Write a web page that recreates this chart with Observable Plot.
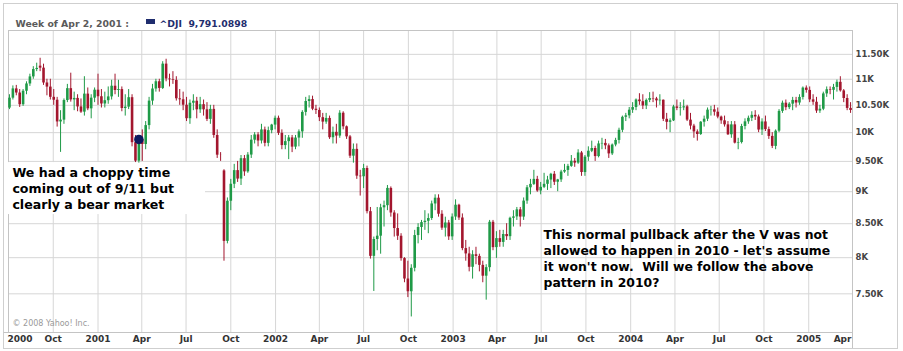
<!DOCTYPE html>
<html><head><meta charset="utf-8">
<script src="https://cdn.jsdelivr.net/npm/d3@7"></script>
<script src="https://cdn.jsdelivr.net/npm/@observablehq/plot@0.6"></script>
<style>
html,body{margin:0;padding:0;background:#fff;}
#chart{position:relative;width:903px;height:351px;}
</style></head><body><div id="chart"></div>
<script>
// Weekly ^DJI candles [open, high, low, close], weeks starting on Monday
const y2000 = [
[10448,10700,10420,10635],[10635,10870,10600,10812],[10812,10880,10680,10733],[10733,10800,10460,10511],
[10511,10800,10480,10767],[10767,10950,10700,10908],[10908,11100,10860,11046],[11046,11250,11000,11192],
[11192,11320,11150,11215],[11260,11420,11150,11220],[11220,11300,10880,10927],[10927,11000,10680,10847],
[10847,11000,10600,10651],[10651,10800,10500,10596],[10596,10650,10100,10193],[10193,10400,9654,10226],
[10226,10620,10150,10590],[10590,10900,10550,10817],[10817,11120,10560,10602],[10602,10750,10400,10630],
[10630,10700,10380,10470],[10470,10620,10350,10373],[10373,11050,10300,10712],[10712,10830,10400,10434],
[10434,10700,10250,10635],[10635,10830,10550,10787]];
const y2001 = [
[10787,11100,10500,10662],[10662,10800,10450,10525],[10525,10750,10450,10587],[10587,10850,10520,10659],
[10659,10980,10600,10864],[10864,11100,10700,10781],[10781,10980,10650,10799],[10799,10850,10380,10441],
[10441,10700,10300,10466],[10466,10800,10420,10644],[10644,10700,9750,9823],[9823,9950,9480,9504],
[9504,9950,9470,9879],[9879,10050,9500,9791],[9791,10200,9700,10127],[10127,10650,10050,10579],
[10579,10900,10500,10810],[10810,11000,10750,10951],[10951,11000,10750,10821],[10821,11350,10800,11301],
[11301,11400,10950,11005],[11005,11100,10850,10990],[10990,11150,10900,10977],[10977,11050,10580,10623],
[10623,10800,10500,10604],[10604,10750,10400,10502],[10502,10650,10200,10252],[10252,10600,10150,10539],
[10539,10700,10400,10577],[10577,10650,10250,10416],[10416,10650,10350,10512],[10512,10600,10300,10416],
[10416,10550,10200,10240],[10240,10500,10150,10424],[10424,10500,9900,9950],[9950,10050,9550,9606],
[9606,9650,9500,9605],[9340,9360,7950,8236],[8236,8900,8200,8848],[8848,9200,8700,9120],
[9120,9450,9050,9345],[9345,9500,9150,9205],[9205,9600,9100,9546],[9546,9600,9250,9324],
[9324,9650,9300,9608],[9608,9950,9550,9867],[9867,10000,9800,9960],[9960,10000,9750,9852],
[9852,10150,9800,10049],[10049,10100,9750,9811],[9811,10100,9750,10036],[10036,10150,9980,10136],
[10136,10300,10050,10260]];
const y2002 = [
[10260,10300,9950,9988],[9988,10050,9700,9772],[9772,9950,9700,9841],[9841,9950,9530,9907],
[9907,9950,9650,9745],[9745,9950,9700,9904],[9904,10050,9750,10014],[10014,10400,9900,10368],
[10368,10650,10300,10572],[10572,10680,10450,10608],[10608,10673,10400,10427],[10427,10500,10330,10404],
[10404,10450,10200,10271],[10271,10350,10050,10190],[10190,10350,10150,10257],[10257,10300,9880,9910],
[9910,10100,9800,10006],[10006,10150,9800,9939],[9939,10400,9900,10353],[10353,10380,10050,10105],
[10105,10120,9880,9925],[9925,9950,9550,9589],[9589,9800,9470,9706],[9706,9800,9200,9253],
[9253,9350,8930,9243],[9243,9450,9050,9380],[9380,9420,8650,8685],[8685,8750,7980,8019],
[8019,8300,7532,8264],[8264,8750,8100,8313],[8313,8800,8050,8745],[8745,8850,8450,8778],
[8778,9100,8700,9053],[9053,9077,8600,8664],[8664,8700,8300,8427],[8427,8650,8250,8312],
[8312,8350,7950,7987],[7987,8000,7650,7701],[7701,7950,7450,7528],[7528,7900,7197,7850],
[7850,8400,7800,8322],[8322,8500,8200,8443],[8443,8550,8250,8517],[8517,8700,8400,8537],
[8537,8650,8350,8579],[8579,8850,8550,8805],[8805,8950,8700,8896],[8896,8950,8600,8645],
[8645,8700,8400,8433],[8433,8600,8300,8511],[8511,8550,8250,8303],[8303,8650,8250,8602]];
const y2003 = [
[8602,8870,8550,8785],[8785,8800,8550,8587],[8587,8650,8100,8131],[8131,8250,7950,8054],
[8054,8150,7800,7864],[7864,8100,7700,8042],[8042,8150,7900,8018],[8018,8050,7800,7891],
[7891,7950,7650,7740],[7740,7900,7416,7859],[7859,8550,7800,8522],[8522,8550,8100,8145],
[8145,8380,7990,8277],[8277,8400,8150,8221],[8221,8400,8150,8338],[8338,8500,8250,8306],
[8306,8600,8250,8583],[8583,8700,8450,8604],[8604,8750,8550,8713],[8713,8750,8450,8601],
[8601,8900,8550,8850],[8850,9100,8800,9063],[9063,9200,8950,9118],[9118,9350,9100,9200],
[9200,9250,8990,9011],[9011,9150,8950,9070],[9070,9300,9050,9119],[9119,9250,9020,9189],
[9189,9300,9050,9284],[9284,9330,9100,9153],[9153,9200,9000,9191],[9191,9350,9150,9321],
[9321,9450,9300,9348],[9348,9450,9250,9416],[9416,9600,9400,9503],[9503,9550,9400,9471],
[9471,9700,9450,9644],[9644,9670,9250,9313],[9313,9600,9250,9572],[9572,9750,9500,9674],
[9674,9850,9650,9721],[9721,9760,9500,9582],[9582,9850,9560,9801],[9801,9900,9700,9810],
[9810,9880,9700,9768],[9768,9800,9550,9628],[9628,9800,9600,9782],[9782,9900,9750,9862],
[9862,10080,9800,10042],[10042,10300,10000,10278],[10278,10350,10200,10305],[10305,10460,10250,10409]];
const y2004 = [
[10409,10550,10350,10458],[10458,10620,10400,10600],[10600,10720,10500,10568],[10568,10700,10420,10488],
[10488,10620,10420,10593],[10593,10740,10550,10628],[10628,10750,10550,10620],[10620,10650,10450,10584],
[10584,10700,10500,10596],[10596,10600,10200,10241],[10241,10350,10050,10186],[10186,10250,10000,10213],
[10213,10500,10200,10470],[10470,10600,10400,10443],[10443,10550,10300,10452],[10452,10600,10400,10472],
[10472,10500,10200,10226],[10226,10350,10050,10118],[10118,10150,9900,10013],[10013,10050,9850,9967],
[9967,10200,9950,10188],[10188,10300,10100,10243],[10243,10450,10200,10410],[10410,10480,10300,10416],
[10416,10500,10300,10372],[10372,10450,10250,10282],[10282,10300,10150,10213],[10213,10300,10100,10140],
[10140,10200,9950,9962],[9962,10200,9900,10140],[10140,10200,9800,9815],[9815,9900,9700,9825],
[9825,10150,9800,10111],[10111,10250,10050,10195],[10195,10300,10150,10260],[10260,10380,10200,10314],
[10314,10400,10220,10284],[10284,10320,10000,10047],[10047,10250,9950,10193],[10193,10300,10020,10055],
[10055,10100,9880,9933],[9933,10000,9720,9758],[9758,10050,9700,10027],[10027,10420,10000,10387],
[10387,10580,10350,10540],[10540,10600,10400,10456],[10456,10550,10420,10522],[10522,10650,10400,10592],
[10592,10650,10450,10543],[10543,10700,10500,10649],[10649,10850,10600,10828],[10828,10870,10730,10783]];
const y2005 = [
[10783,10850,10550,10603],[10603,10700,10500,10558],[10558,10650,10350,10393],[10393,10500,10350,10427],
[10427,10750,10400,10716],[10716,10850,10650,10796],[10796,10850,10700,10785],[10785,10900,10600,10841],
[10841,10984,10750,10940],[10940,11050,10750,10774],[10774,10800,10550,10629],[10629,10700,10400,10442],
[10442,10550,10350,10404]];

const firstWeek = "2000-07-03";
const lastWeekEnd = "2005-03-29";
const xDomain = ["2000-07-01", "2005-04-01"];
const yDomain = [7000, 12000];
const xTickDates = ["2000-07-01","2000-10-01","2001-01-01","2001-04-01","2001-07-01","2001-10-01",
  "2002-01-01","2002-04-01","2002-07-01","2002-10-01","2003-01-01","2003-04-01","2003-07-01","2003-10-01",
  "2004-01-01","2004-04-01","2004-07-01","2004-10-01","2005-01-01","2005-04-01"];
const xTickLabels = ["2000","Oct","2001","Apr","Jul","Oct","2002","Apr","Jul","Oct","2003","Apr","Jul","Oct",
  "2004","Apr","Jul","Oct","2005","Apr"];
const yTicks = [7500, 8000, 8500, 9000, 9500, 10000, 10500, 11000, 11500];
const yTickLabels = ["7.50K","8K","8.50K","9K","9.50K","10K","10.50K","11K","11.50K"];
const markerWeek = "2001-03-26";
const headerLabel = "Week of Apr 2, 2001 :";
const headerSeries = "^DJI";
const headerValue = "9,791.0898";
const copyright = "\u00a9 2008 Yahoo! Inc.";
const note1 = "We had a choppy time\ncoming out of 9/11 but\nclearly a bear market";
const note2 = "This normal pullback after the V was not\nallowed to happen in 2010 - let's assume\nit won't now.\u00a0 Will we follow the above\npattern in 2010?";

const green = "#1f9a47", red = "#a3162e", grid = "#d6d6d6";
const rows = [...y2000, ...y2001, ...y2002, ...y2003, ...y2004, ...y2005];
const weeks = d3.utcMonday.range(new Date(firstWeek), new Date(lastWeekEnd));
const data = rows.map(([o, h, l, c], i) => ({date: weeks[i], open: o, high: h, low: l, close: c, up: c >= o}));
const ups = data.filter(d => d.up), downs = data.filter(d => !d.up);
const marker = data.filter(d => +d.date === +new Date(markerWeek));
const qDates = xTickDates.map(s => new Date(s));
const qIdx = qDates.map((d, i) => i);

const F = "DejaVu Sans";
const plot = Plot.plot({
  width: 903, height: 351,
  marginLeft: 8, marginRight: 51, marginTop: 30, marginBottom: 19,
  x: {type: "utc", domain: xDomain.map(s => new Date(s)), axis: null},
  y: {type: "log", domain: yDomain, axis: null},
  style: {fontFamily: F, background: "white", overflow: "visible"},
  marks: [
    Plot.ruleY(yTicks, {y: d => d, stroke: grid}),
    Plot.ruleX(qDates, {x: d => d, stroke: grid}),
    Plot.frame({stroke: "#c4c4c4"}),
    Plot.rect([0], {x1: () => new Date("2000-07-01"), x2: () => new Date("2001-08-10"), y1: () => 9480, y2: () => 8640, fill: "white"}),
    Plot.ruleX(ups, {x: "date", y1: "low", y2: "high", stroke: green, strokeWidth: 1}),
    Plot.ruleX(downs, {x: "date", y1: "low", y2: "high", stroke: red, strokeWidth: 1}),
    Plot.ruleX(ups, {x: "date", y1: "open", y2: "close", stroke: green, strokeWidth: 2.6}),
    Plot.ruleX(downs, {x: "date", y1: "open", y2: "close", stroke: red, strokeWidth: 2.6}),
    Plot.dot(marker, {x: "date", y: "close", r: 4, fill: "#0c1a5e", stroke: "#0c1a5e"}),
    Plot.text([note1], {x: () => new Date("2000-07-09"), y: () => 9431, text: d => d, textAnchor: "start", lineAnchor: "top",
      fontSize: 12.6, fontWeight: "bold", lineHeight: 16/12.6, fill: "#000"}),
    Plot.text([note2], {x: () => new Date("2003-07-06"), y: () => 8448, text: d => d, textAnchor: "start", lineAnchor: "top",
      fontSize: 12.4, fontWeight: "bold", lineHeight: 16/12.4, fill: "#000"}),
    Plot.text(yTicks, {y: d => d, text: (d, i) => yTickLabels[i], frameAnchor: "right", dx: 3, textAnchor: "start",
      fontSize: 8.5, fontWeight: "bold", fill: "#444"}),
    Plot.text(qIdx.slice(0, 1), {x: i => qDates[i], text: i => xTickLabels[i], frameAnchor: "bottom", dy: 9, dx: -1,
      textAnchor: "start", fontSize: 9, fontWeight: "bold", fill: "#333"}),
    Plot.text(qIdx.slice(1, -1), {x: i => qDates[i], text: i => xTickLabels[i], frameAnchor: "bottom", dy: 9,
      textAnchor: "middle", fontSize: 9, fontWeight: "bold", fill: "#333"}),
    Plot.text(qIdx.slice(-1), {x: i => qDates[i], text: i => xTickLabels[i], frameAnchor: "bottom", dy: 9, dx: -1,
      textAnchor: "end", fontSize: 9, fontWeight: "bold", fill: "#333"}),
    Plot.text([copyright], {text: d => d, frameAnchor: "bottom-left", dx: 4, dy: -7, textAnchor: "start",
      fontSize: 8, fill: "#9a9a9a"}),
    Plot.text([headerLabel], {text: d => d, frameAnchor: "top-left", dx: 7, dy: -10, textAnchor: "start",
      fontSize: 9.3, fontWeight: "bold", fill: "#5a5a5a"}),
    Plot.text([headerSeries + "  " + headerValue], {text: d => d, frameAnchor: "top-left", dx: 151, dy: -10, textAnchor: "start",
      fontSize: 9.3, fontWeight: "bold", fill: "#1f2d6e"})
  ]
});
document.getElementById("chart").appendChild(plot);

// chrome: outer frame, legend swatch, extended axis lines
const svg = d3.select(plot);
svg.insert("rect", ":first-child").attr("x", 3.5).attr("y", 3.5).attr("width", 894).attr("height", 345)
  .attr("fill", "white").attr("stroke", "#cfcfcf");
svg.append("rect").attr("x", 146).attr("y", 19).attr("width", 9).attr("height", 5).attr("fill", "#1f2d6e");
svg.append("line").attr("x1", 852.5).attr("x2", 852.5).attr("y1", 332).attr("y2", 348).attr("stroke", "#c4c4c4");
svg.append("line").attr("x1", 3.5).attr("x2", 8).attr("y1", 332.5).attr("y2", 332.5).attr("stroke", "#c4c4c4");
</script></body></html>
